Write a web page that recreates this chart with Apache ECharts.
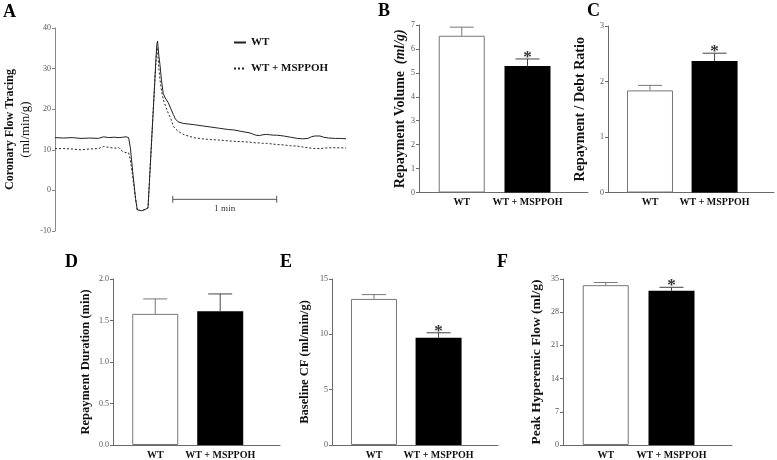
<!DOCTYPE html>
<html><head><meta charset="utf-8">
<script src="https://cdn.jsdelivr.net/npm/echarts@6/dist/echarts.min.js"></script>
<style>html,body{margin:0;padding:0;background:#fff}#c{width:777px;height:460px}</style>
</head><body><div id="c"></div>
<script>
// ---------- DATA ----------
const categories = ['WT', 'WT + MSPPOH'];

// Panel A: coronary flow tracing (time in s, flow in ml/min/g)
const traceTime = [0,5,10,15,20,25,28,31,34,37,39,41,42.5,43.5,45,46.5,47.5,48.5,50,52,53.7,54.5,55.5,56.5,57.5,58.3,58.8,59.2,60,60.6,61.5,62.5,64,65.4,67,68.3,69.5,71,74,80,85,90,95,100,103,108,112,114,115,116,118,120,122,124,125,126,128,132,136,140,143,146,148,150,153,155,158,162,165,168];
const flowWT     = [13.0,12.9,13.0,12.8,12.9,12.8,13.2,13.0,13.1,13.0,13.1,13.2,13.0,10.5,4.0,-2.0,-4.8,-5.2,-5.0,-4.7,-4.3,2.0,10.0,18.0,26.0,32.5,36.0,36.8,33.0,31.0,27.0,23.8,22.5,21.6,20.0,18.7,17.6,16.9,16.5,16.2,15.9,15.6,15.3,15.0,14.9,14.5,14.2,13.9,14.1,13.6,13.5,13.7,13.8,13.7,14.0,13.6,13.6,13.4,13.1,12.8,12.7,12.8,13.2,13.4,13.4,13.1,12.9,12.8,12.8,12.7];
const flowMSPPOH = [10.3,10.3,10.2,10.0,10.2,10.3,10.8,10.6,10.4,10.5,9.6,9.3,9.3,7.5,3.0,-2.0,-4.8,-5.2,-5.0,-4.7,-4.3,2.0,10.0,18.0,26.0,32.0,35.3,34.5,30.0,27.3,24.5,22.4,20.5,19.0,17.5,15.8,15.2,14.6,13.8,13.0,12.7,12.5,12.4,12.2,12.1,12.0,11.9,11.8,11.8,11.7,11.7,11.6,11.6,11.5,11.5,11.4,11.3,11.2,11.0,10.9,10.7,10.5,10.4,10.3,10.3,10.4,10.5,10.5,10.5,10.4];
const traceTicks = [-10, 0, 10, 20, 30, 40];
const scaleBarTime = [68, 128];   // 1 min
const scaleBarLevel = -2.2;

// Panels B-F: mean and SEM for [WT, WT + MSPPOH]
const repaymentVolume = [6.55, 5.29];
const repaymentVolumeSem = [0.36, 0.29];
const repaymentDebtRatio = [1.84, 2.37];
const repaymentDebtRatioSem = [0.09, 0.14];
const repaymentDuration = [1.58, 1.61];
const repaymentDurationSem = [0.18, 0.21];
const baselineCF = [13.2, 9.69];
const baselineCFSem = [0.39, 0.45];
const peakHyperemicFlow = [33.7, 32.5];
const peakHyperemicFlowSem = [0.55, 0.75];
const starsSig = [false, true];
const starsNone = [false, false];

// ---------- CHART ----------
const FONT = 'Liberation Serif';
const chart = echarts.init(document.getElementById('c'), null, {renderer: 'canvas'});

const panels = [
  {grid: {left: 419, top: 25, width: 169, height: 167.5}, max: 7, interval: 1, dec: 0, fs: 14,
   means: repaymentVolume, sems: repaymentVolumeSem, stars: starsSig,
   name: '{b|Repayment Volume}  {bi|(ml/g)}', nameGap: 12},
  {grid: {left: 608, top: 26, width: 166, height: 166.5}, max: 3, interval: 1, dec: 0, fs: 14,
   means: repaymentDebtRatio, sems: repaymentDebtRatioSem, stars: starsSig,
   name: '{b|Repayment / Debt Ratio}', nameGap: 21},
  {grid: {left: 113, top: 279, width: 167, height: 167}, max: 2, interval: 0.5, dec: 1, fs: 12.5,
   means: repaymentDuration, sems: repaymentDurationSem, stars: starsNone,
   name: '{b|Repayment Duration (min)}', nameGap: 21},
  {grid: {left: 332, top: 279, width: 166, height: 167}, max: 15, interval: 5, dec: 0, fs: 12.5,
   means: baselineCF, sems: baselineCFSem, stars: starsSig,
   name: '{b|Baseline CF (ml/min/g)}', nameGap: 21},
  {grid: {left: 563, top: 279, width: 169, height: 167}, max: 35, interval: 7, dec: 0, fs: 13.5,
   means: peakHyperemicFlow, sems: peakHyperemicFlowSem, stars: starsSig,
   name: '{b|Peak Hyperemic Flow (ml/g)}', nameGap: 19}
];

const axisColor = '#6a6a6a';
const tickLabel = {fontFamily: FONT, fontSize: 8, color: '#555', margin: 4};

const grids = [{left: 55, top: 28, width: 291, height: 203, containLabel: false}];
const xAxes = [{gridIndex: 0, type: 'value', min: 0, max: 168, show: false}];
const yAxes = [{
  gridIndex: 0, type: 'value', min: traceTicks[0], max: traceTicks[traceTicks.length - 1], interval: 10,
  axisLine: {show: true, lineStyle: {color: '#888'}},
  axisTick: {show: true, length: 3, lineStyle: {color: '#888'}},
  axisLabel: tickLabel, splitLine: {show: false},
  name: '{b|Coronary Flow Tracing}\n{n|(ml/min/g)}', nameLocation: 'middle', nameGap: 21,
  nameTextStyle: {rich: {
    b: {fontFamily: FONT, fontWeight: 'bold', fontSize: 12, color: '#111', lineHeight: 16},
    n: {fontFamily: FONT, fontSize: 13, color: '#111', lineHeight: 16}
  }}
}];

const series = [
  {name: 'WT', type: 'line', xAxisIndex: 0, yAxisIndex: 0, symbol: 'none', silent: true,
   data: traceTime.map((t, i) => [t, flowWT[i]]),
   itemStyle: {color: '#222'}, lineStyle: {color: '#222', width: 1}},
  {name: 'WT + MSPPOH', type: 'line', xAxisIndex: 0, yAxisIndex: 0, symbol: 'none', silent: true,
   data: traceTime.map((t, i) => [t, flowMSPPOH[i]]),
   itemStyle: {color: '#222'}, lineStyle: {color: '#222', width: 1, type: [2, 2]}},
  {name: 'scale', type: 'line', xAxisIndex: 0, yAxisIndex: 0, silent: true,
   data: scaleBarTime.map(t => [t, scaleBarLevel]),
   symbol: 'rect', symbolSize: [1, 7], itemStyle: {color: '#555'}, lineStyle: {color: '#555', width: 1},
   markPoint: {symbol: 'rect', symbolSize: 0,
     data: [{coord: [(scaleBarTime[0] + scaleBarTime[1]) / 2, scaleBarLevel]}],
     label: {show: true, formatter: '1 min', position: 'bottom', distance: 5,
             fontFamily: FONT, fontSize: 9, color: '#333'}}}
];

panels.forEach((p, k) => {
  const gi = k + 1;
  grids.push(Object.assign({containLabel: false}, p.grid));
  xAxes.push({
    gridIndex: gi, type: 'value', min: 0.35, max: 2.92,
    axisLine: {show: true, onZero: false, lineStyle: {color: axisColor}},
    axisTick: {show: false}, splitLine: {show: false},
    axisLabel: {show: true, customValues: [1, 2], formatter: v => categories[Math.round(v) - 1] || '',
                fontFamily: FONT, fontWeight: 'bold', fontSize: 10, color: '#111', margin: 5}
  });
  yAxes.push({
    gridIndex: gi, type: 'value', min: 0, max: p.max, interval: p.interval,
    axisLine: {show: true, lineStyle: {color: axisColor}},
    axisTick: {show: true, length: 3, lineStyle: {color: axisColor}},
    axisLabel: Object.assign({}, tickLabel, {formatter: v => v.toFixed(p.dec)}),
    splitLine: {show: false},
    name: p.name, nameLocation: 'middle', nameGap: p.nameGap,
    nameTextStyle: {rich: {
      b: {fontFamily: FONT, fontWeight: 'bold', fontSize: p.fs, color: '#111'},
      bi: {fontFamily: FONT, fontWeight: 'bold', fontStyle: 'italic', fontSize: p.fs, color: '#111'}
    }}
  });
  series.push({
    type: 'bar', xAxisIndex: gi, yAxisIndex: gi, barWidth: 46, silent: true,
    data: p.means.map((m, i) => ({
      value: [i + 1, m],
      itemStyle: i === 0 ? {color: '#fff', borderColor: '#777', borderWidth: 1} : {color: '#000'}
    }))
  });
  series.push({
    type: 'custom', xAxisIndex: gi, yAxisIndex: gi, silent: true, z: 5,
    data: p.means.map((m, i) => [i + 1, m, p.sems[i], p.stars[i] ? 1 : 0]),
    renderItem: (params, api) => {
      const x = api.value(0), m = api.value(1), s = api.value(2), st = api.value(3);
      const p0 = api.coord([x, m]), p1 = api.coord([x, m + s]);
      const col = params.dataIndex === 0 ? '#777' : '#444';
      const ch = [
        {type: 'line', shape: {x1: p0[0], y1: p0[1], x2: p1[0], y2: p1[1]}, style: {stroke: col, lineWidth: 1}},
        {type: 'line', shape: {x1: p1[0] - 12, y1: p1[1], x2: p1[0] + 12, y2: p1[1]}, style: {stroke: col, lineWidth: 1}}
      ];
      if (st) ch.push({type: 'text', x: p1[0], y: p1[1] + 7,
        style: {text: '*', font: 'bold 17px "Liberation Serif"', fill: '#333', align: 'center', verticalAlign: 'bottom'}});
      return {type: 'group', children: ch};
    }
  });
});

const letter = (t, x, y) => ({type: 'text', x: x, y: y,
  style: {text: t, font: 'bold 18px "Liberation Serif"', fill: '#000', verticalAlign: 'middle'}});

chart.setOption({
  backgroundColor: '#fff',
  animation: false,
  grid: grids, xAxis: xAxes, yAxis: yAxes, series: series,
  legend: {
    data: ['WT', 'WT + MSPPOH'], orient: 'vertical', left: 233, top: 37, padding: 0,
    itemWidth: 12, itemHeight: 10, itemGap: 15, selectedMode: false,
    itemStyle: {opacity: 0},
    textStyle: {fontFamily: FONT, fontWeight: 'bold', fontSize: 11, color: '#111'}
  },
  graphic: [letter('A', 3, 12), letter('B', 378, 11), letter('C', 587, 11),
            letter('D', 65, 262), letter('E', 280, 262), letter('F', 497, 262)]
});
</script></body></html>
